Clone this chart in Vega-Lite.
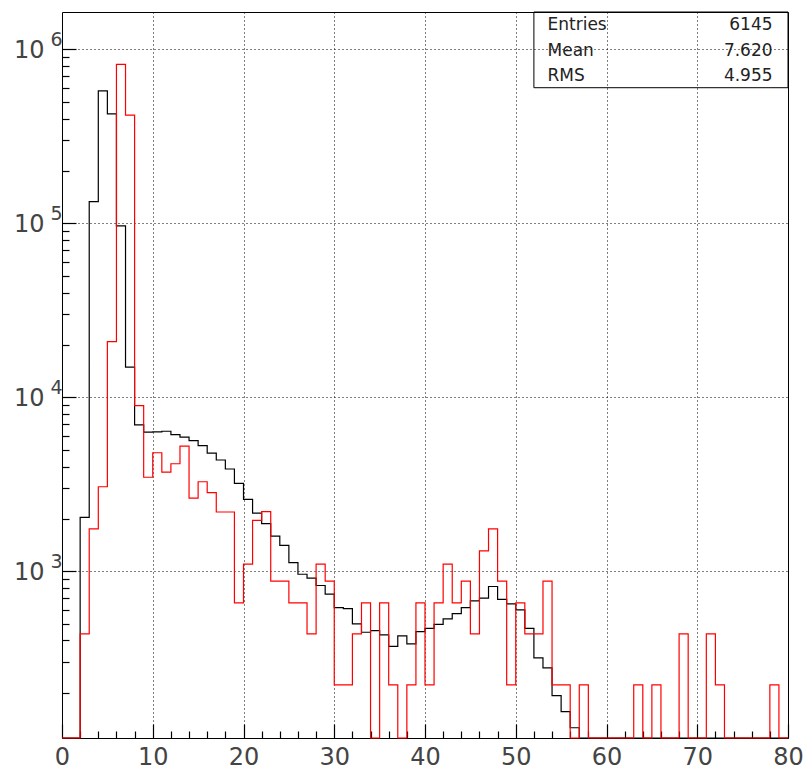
{
  "$schema": "https://vega.github.io/schema/vega-lite/v6.json",
  "width": 726,
  "height": 726,
  "autosize": {"type": "none"},
  "padding": {"left": 62, "top": 12, "right": 20, "bottom": 34},
  "background": "white",
  "config": {
    "view": {"stroke": "black", "strokeWidth": 1},
    "axis": {"domainColor": "black", "tickColor": "black", "labelColor": "#444", "labelFont": "DejaVu Sans", "title": null}
  },
  "datasets": {
    "hist": [
      {"x": 0, "black": 0, "red": 0},
      {"x": 1, "black": 0, "red": 0},
      {"x": 2, "black": 2040, "red": 436},
      {"x": 3, "black": 133400, "red": 1750},
      {"x": 4, "black": 578000, "red": 3060},
      {"x": 5, "black": 426000, "red": 20900},
      {"x": 6, "black": 96600, "red": 820000},
      {"x": 7, "black": 14900, "red": 419000},
      {"x": 8, "black": 6950, "red": 8950},
      {"x": 9, "black": 6300, "red": 3470},
      {"x": 10, "black": 6330, "red": 4800},
      {"x": 11, "black": 6380, "red": 3710},
      {"x": 12, "black": 6100, "red": 4150},
      {"x": 13, "black": 5900, "red": 5240},
      {"x": 14, "black": 5630, "red": 2630},
      {"x": 15, "black": 5270, "red": 3270},
      {"x": 16, "black": 4780, "red": 2830},
      {"x": 17, "black": 4360, "red": 2190},
      {"x": 18, "black": 3870, "red": 2190},
      {"x": 19, "black": 3200, "red": 658},
      {"x": 20, "black": 2590, "red": 1100},
      {"x": 21, "black": 2160, "red": 1960},
      {"x": 22, "black": 1880, "red": 2200},
      {"x": 23, "black": 1590, "red": 877},
      {"x": 24, "black": 1410, "red": 877},
      {"x": 25, "black": 1120, "red": 658},
      {"x": 26, "black": 961, "red": 658},
      {"x": 27, "black": 912, "red": 436},
      {"x": 28, "black": 828, "red": 1100},
      {"x": 29, "black": 738, "red": 877},
      {"x": 30, "black": 618, "red": 222},
      {"x": 31, "black": 610, "red": 222},
      {"x": 32, "black": 498, "red": 436},
      {"x": 33, "black": 446, "red": 658},
      {"x": 34, "black": 456, "red": 0},
      {"x": 35, "black": 431, "red": 658},
      {"x": 36, "black": 370, "red": 222},
      {"x": 37, "black": 425, "red": 0},
      {"x": 38, "black": 382, "red": 222},
      {"x": 39, "black": 450, "red": 658},
      {"x": 40, "black": 470, "red": 222},
      {"x": 41, "black": 495, "red": 658},
      {"x": 42, "black": 532, "red": 1100},
      {"x": 43, "black": 571, "red": 658},
      {"x": 44, "black": 618, "red": 877},
      {"x": 45, "black": 676, "red": 436},
      {"x": 46, "black": 700, "red": 1310},
      {"x": 47, "black": 817, "red": 1750},
      {"x": 48, "black": 690, "red": 877},
      {"x": 49, "black": 649, "red": 222},
      {"x": 50, "black": 599, "red": 658},
      {"x": 51, "black": 470, "red": 436},
      {"x": 52, "black": 318, "red": 436},
      {"x": 53, "black": 278, "red": 877},
      {"x": 54, "black": 193, "red": 222},
      {"x": 55, "black": 156, "red": 222},
      {"x": 56, "black": 126, "red": 0},
      {"x": 57, "black": 0, "red": 222},
      {"x": 58, "black": 0, "red": 0},
      {"x": 59, "black": 0, "red": 0},
      {"x": 60, "black": 0, "red": 0},
      {"x": 61, "black": 0, "red": 0},
      {"x": 62, "black": 0, "red": 0},
      {"x": 63, "black": 0, "red": 222},
      {"x": 64, "black": 0, "red": 0},
      {"x": 65, "black": 0, "red": 222},
      {"x": 66, "black": 0, "red": 0},
      {"x": 67, "black": 0, "red": 0},
      {"x": 68, "black": 0, "red": 436},
      {"x": 69, "black": 0, "red": 0},
      {"x": 70, "black": 0, "red": 0},
      {"x": 71, "black": 0, "red": 436},
      {"x": 72, "black": 0, "red": 222},
      {"x": 73, "black": 0, "red": 0},
      {"x": 74, "black": 0, "red": 0},
      {"x": 75, "black": 0, "red": 0},
      {"x": 76, "black": 0, "red": 0},
      {"x": 77, "black": 0, "red": 0},
      {"x": 78, "black": 0, "red": 222},
      {"x": 79, "black": 0, "red": 0},
      {"x": 80, "black": 0, "red": 0}
    ],
    "stats": [
      {"name": "Entries", "value": "6145"},
      {"name": "Mean", "value": "7.620"},
      {"name": "RMS", "value": "4.955"}
    ]
  },
  "resolve": {"axis": {"x": "independent", "y": "independent"}},
  "layer": [
    {
      "data": {"name": "hist"},
      "mark": {"type": "line", "interpolate": "step-after", "color": "black", "strokeWidth": 1.2, "invalid": "show"},
      "encoding": {
        "x": {
          "field": "x", "type": "quantitative",
          "scale": {"domain": [0, 80], "nice": false, "zero": false},
          "axis": {
            "orient": "bottom", "offset": -14, "domain": false,
            "values": [0, 10, 20, 30, 40, 50, 60, 70, 80],
            "ticks": true, "tickSize": 14, "tickWidth": 1.2, "tickColor": "black",
            "grid": true, "gridColor": "black", "gridDash": [1, 3], "gridWidth": 1,
            "gridOpacity": {"condition": {"test": "datum.value > 0 && datum.value < 80", "value": 1}, "value": 0},
            "labelFontSize": 24, "labelPadding": 7, "labelFlush": false, "labelOverlap": false,
            "labelBaseline": "top"
          }
        },
        "y": {
          "field": "black", "type": "quantitative",
          "scale": {"type": "log", "domain": [110, 1640000], "nice": false, "clamp": true},
          "axis": {
            "orient": "left", "offset": -14, "domain": false,
            "values": [1000, 10000, 100000, 1000000],
            "ticks": true, "tickSize": 14, "tickWidth": 1.2, "tickColor": "black",
            "grid": true, "gridColor": "black", "gridDash": [1, 3], "gridWidth": 1,
            "labelExpr": "'10'",
            "labelFontSize": 24, "labelPadding": 18, "labelOffset": 1, "labelOverlap": false, "labelFlush": false,
            "labelAlign": "right", "labelBaseline": "middle"
          }
        }
      }
    },
    {
      "data": {"name": "hist"},
      "mark": {"type": "line", "interpolate": "step-after", "color": "#ff0000", "strokeWidth": 1.2, "invalid": "show"},
      "encoding": {
        "x": {
          "field": "x", "type": "quantitative",
          "axis": {
            "orient": "bottom", "offset": -7, "domain": false,
            "values": [2,4,6,8,12,14,16,18,22,24,26,28,32,34,36,38,42,44,46,48,52,54,56,58,62,64,66,68,72,74,76,78],
            "ticks": true, "tickSize": 7, "tickWidth": 1.2, "tickColor": "black",
            "labels": false, "grid": false
          }
        },
        "y": {
          "field": "red", "type": "quantitative",
          "axis": {
            "orient": "left", "offset": -7, "domain": false,
            "values": [200,300,400,500,600,700,800,900,2000,3000,4000,5000,6000,7000,8000,9000,20000,30000,40000,50000,60000,70000,80000,90000,200000,300000,400000,500000,600000,700000,800000,900000],
            "ticks": true, "tickSize": 7, "tickWidth": 1.2, "tickColor": "black",
            "labels": false, "grid": false
          }
        }
      }
    },
    {
      "data": {"values": [{}]},
      "mark": {"type": "rect", "filled": false, "stroke": "black", "strokeWidth": 1},
      "encoding": {
        "x": {"datum": 52, "type": "quantitative", "axis": null},
        "x2": {"datum": 80},
        "y": {
          "datum": 602000, "type": "quantitative",
          "axis": {
            "orient": "left",
            "values": [1000, 10000, 100000, 1000000],
            "ticks": false, "domain": false, "grid": false,
            "labelExpr": "'' + round(log(datum.value) / LN10)",
            "labelFontSize": 19, "labelPadding": 0, "labelOffset": -10,
            "labelAlign": "right", "labelBaseline": "middle", "labelOverlap": false, "labelFlush": false
          }
        },
        "y2": {"datum": 1640000}
      }
    },
    {
      "data": {"name": "stats"},
      "transform": [{"filter": "datum.name === 'Entries'"}],
      "encoding": {"y": {"datum": 1386000, "type": "quantitative", "axis": null}},
      "layer": [
        {"mark": {"type": "text", "align": "left", "baseline": "middle", "font": "DejaVu Sans", "fontSize": 17, "color": "#222"},
         "encoding": {"x": {"datum": 53.5, "type": "quantitative", "axis": null}, "text": {"field": "name"}}},
        {"mark": {"type": "text", "align": "right", "baseline": "middle", "font": "DejaVu Sans", "fontSize": 17, "color": "#222"},
         "encoding": {"x": {"datum": 78.3, "type": "quantitative", "axis": null}, "text": {"field": "value"}}}
      ]
    },
    {
      "data": {"name": "stats"},
      "transform": [{"filter": "datum.name === 'Mean'"}],
      "encoding": {"y": {"datum": 981000, "type": "quantitative", "axis": null}},
      "layer": [
        {"mark": {"type": "text", "align": "left", "baseline": "middle", "font": "DejaVu Sans", "fontSize": 17, "color": "#222"},
         "encoding": {"x": {"datum": 53.5, "type": "quantitative", "axis": null}, "text": {"field": "name"}}},
        {"mark": {"type": "text", "align": "right", "baseline": "middle", "font": "DejaVu Sans", "fontSize": 17, "color": "#222"},
         "encoding": {"x": {"datum": 78.3, "type": "quantitative", "axis": null}, "text": {"field": "value"}}}
      ]
    },
    {
      "data": {"name": "stats"},
      "transform": [{"filter": "datum.name === 'RMS'"}],
      "encoding": {"y": {"datum": 705000, "type": "quantitative", "axis": null}},
      "layer": [
        {"mark": {"type": "text", "align": "left", "baseline": "middle", "font": "DejaVu Sans", "fontSize": 17, "color": "#222"},
         "encoding": {"x": {"datum": 53.5, "type": "quantitative", "axis": null}, "text": {"field": "name"}}},
        {"mark": {"type": "text", "align": "right", "baseline": "middle", "font": "DejaVu Sans", "fontSize": 17, "color": "#222"},
         "encoding": {"x": {"datum": 78.3, "type": "quantitative", "axis": null}, "text": {"field": "value"}}}
      ]
    }
  ]
}
